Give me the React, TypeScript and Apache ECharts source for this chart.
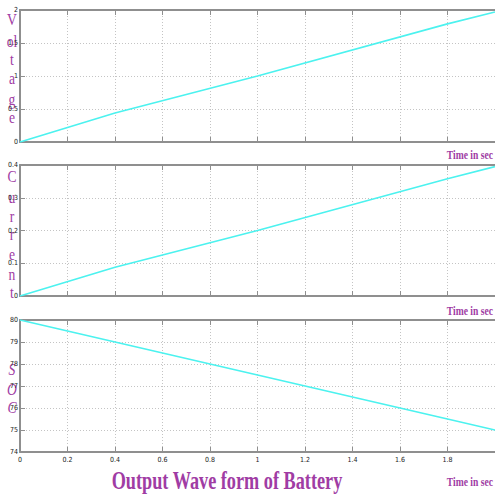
import React, { useEffect, useRef } from "react";
import * as echarts from "echarts";

const timeSec = [0, 0.4, 1, 1.8, 2];
const voltage = [0, 0.44, 1.0, 1.79, 1.97];
const current = [0, 0.088, 0.2, 0.358, 0.395];
const soc = [80, 79.0, 77.5, 75.5, 75.0];

const xTicks = [0, 0.2, 0.4, 0.6, 0.8, 1, 1.2, 1.4, 1.6, 1.8, 2];
const voltTicks = [0, 0.5, 1, 1.5, 2];
const currTicks = [0, 0.1, 0.2, 0.3, 0.4];
const socTicks = [74, 75, 76, 77, 78, 79, 80];

const titleText = "Output Wave form of Battery";
const xName = "Time in sec";
const yNames = ["Voltage", "Current", "SOC"];

const PURPLE = "#a03ca4";
const AXIS = "#8f8f8f";
const LINE = "#4cf2ef";

export default function App() {
  const ref = useRef<HTMLDivElement>(null);
  useEffect(() => {
    if (!ref.current) return;
    const chart = echarts.init(ref.current, null, { renderer: "svg" });
    const grids = [
      { left: 20, top: 10, right: -3, height: 132 },
      { left: 20, top: 165, right: -3, height: 131 },
      { left: 20, top: 320, right: -3, height: 132 },
    ];
    const ranges = [
      { min: voltTicks[0], max: voltTicks[voltTicks.length - 1], interval: 0.5 },
      { min: currTicks[0], max: currTicks[currTicks.length - 1], interval: 0.1 },
      { min: socTicks[0], max: socTicks[socTicks.length - 1], interval: 1 },
    ];
    const seriesData = [voltage, current, soc];
    const xAxes: any[] = [];
    const yAxes: any[] = [];
    const series: any[] = [];
    grids.forEach((g, i) => {
      xAxes.push({
        type: "value",
        gridIndex: i,
        min: xTicks[0],
        max: xTicks[xTicks.length - 1],
        interval: 0.2,
        position: "bottom",
        axisLine: { show: true, lineStyle: { color: AXIS, width: 2 } },
        axisTick: { show: true, inside: true, length: 5, lineStyle: { color: AXIS, width: 1 } },
        splitLine: { show: true, lineStyle: { color: "#c4c4c4", type: [1, 2], width: 1 } },
        axisLabel: {
          show: i === 2,
          fontSize: 7,
          color: "#222",
          fontFamily: "DejaVu Sans Condensed",
          margin: 4,
          showMaxLabel: false,
        },
      });
      xAxes.push({
        type: "value",
        gridIndex: i,
        min: xTicks[0],
        max: xTicks[xTicks.length - 1],
        interval: 0.2,
        position: "top",
        axisLine: { show: true, lineStyle: { color: AXIS, width: 2 } },
        axisTick: { show: true, inside: true, length: 5, lineStyle: { color: AXIS, width: 1 } },
        splitLine: { show: false },
        axisLabel: { show: false },
      });
      yAxes.push({
        type: "value",
        gridIndex: i,
        ...ranges[i],
        position: "left",
        axisLine: { show: true, lineStyle: { color: AXIS, width: 2 } },
        axisTick: { show: true, inside: true, length: 5, lineStyle: { color: AXIS, width: 1 } },
        splitLine: { show: true, lineStyle: { color: "#c4c4c4", type: [1, 2], width: 1 } },
        axisLabel: {
          show: true,
          fontSize: 7,
          color: "#222",
          fontFamily: "DejaVu Sans Condensed",
          margin: 2,
        },
      });
      series.push({
        type: "line",
        xAxisIndex: i * 2,
        yAxisIndex: i,
        data: timeSec.map((t, k) => [t, seriesData[i][k]]),
        showSymbol: false,
        symbol: "none",
        lineStyle: { color: LINE, width: 1.6 },
        clip: true,
      });
    });

    const graphics: any[] = [];
    const rowsList = [
      { rows: ["V", "ol", "t", "a", "g", "e"], ys: [20, 42, 60, 79, 100, 118], italic: false },
      { rows: ["C", "u", "r", "r", "e", "n", "t"], ys: [177, 198, 217, 235, 255, 275, 293], italic: false },
      { rows: ["S", "O", "C"], ys: [370, 390, 408], italic: true },
    ];
    rowsList.forEach((r) => {
      r.rows.forEach((ch, k) => {
        graphics.push({
          type: "text",
          x: 12,
          y: r.ys[k],
          scaleX: 0.85,
          style: {
            text: ch,
            fill: PURPLE,
            font: `${r.italic ? "italic " : ""}16px "Liberation Serif"`,
            align: "center",
            verticalAlign: "middle",
          },
        });
      });
    });
    [155, 311, 482].forEach((y) => {
      graphics.push({
        type: "text",
        x: 493,
        y,
        scaleX: 0.8,
        style: {
          text: xName,
          fill: PURPLE,
          font: 'bold 12px "Liberation Serif"',
          align: "right",
          verticalAlign: "middle",
        },
      });
    });
    graphics.push({
      type: "text",
      x: 227,
      y: 481,
      scaleX: 0.73,
      style: {
        text: titleText,
        fill: PURPLE,
        font: 'bold 25px "Liberation Serif"',
        align: "center",
        verticalAlign: "middle",
      },
    });

    chart.setOption({
      animation: false,
      backgroundColor: "#ffffff",
      grid: grids,
      xAxis: xAxes,
      yAxis: yAxes,
      series,
      graphic: graphics,
    });
    return () => chart.dispose();
  }, []);
  return (
    <div
      ref={ref}
      aria-label={`${titleText}: ${yNames.join(", ")}`}
      style={{ position: "absolute", left: 0, top: 0, width: 495, height: 495 }}
    />
  );
}
